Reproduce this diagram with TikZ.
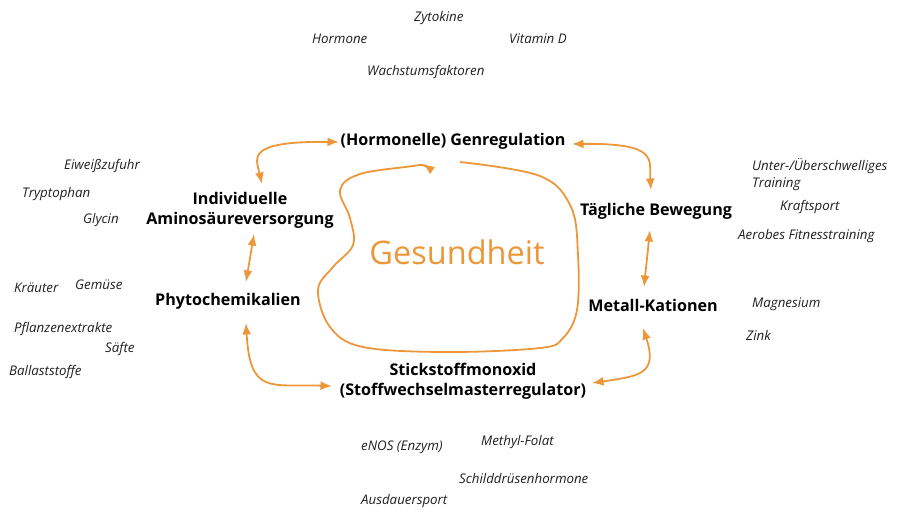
\documentclass[tikz,border=0pt]{standalone}
\usepackage{fontspec}
\setmainfont{Open Sans}
\usetikzlibrary{arrows.meta,calc}
\definecolor{orng}{RGB}{236,152,58}
\begin{document}
\begin{tikzpicture}[x=1pt,y=-1pt,
  main/.style={font=\fontsize{16.1}{20}\selectfont\bfseries, align=center, inner sep=0pt, text=black},
  sub/.style={font=\fontsize{13.3}{17}\selectfont\itshape, anchor=west, inner sep=0pt, align=left, text=black!88, yshift=-1.5pt},
  conn/.style={draw=orng, line width=1.8pt, {Latex[length=11.5pt,width=9pt]}-{Latex[length=11.5pt,width=9pt]}}
]
\useasboundingbox (0,0) rectangle (906,515);

% main nodes
\node[main] (genreg) at (453,141) {(Hormonelle) Genregulation};
\node[main] (indiv) at (240,210) {Individuelle\\Aminosäureversorgung};
\node[main] (phyto) at (228,301) {Phytochemikalien};
\node[main] (stick) at (463,381) {Stickstoffmonoxid\\(Stoffwechselmasterregulator)};
\node[main] (taeg) at (656,211) {Tägliche Bewegung};
\node[main] (metall) at (653,305) {Metall-Kationen};

\node[font=\fontsize{32.5}{38}\selectfont, text=orng, inner sep=0pt] (ges) at (457,252) {Gesundheit};

% sub labels
\node[sub] (zyt) at (414,17) {Zytokine};
\node[sub] (horm) at (312,37) {Hormone};
\node[sub] (vitd) at (509,37) {Vitamin D};
\node[sub] (wachs) at (367,71) {Wachstumsfaktoren};
\node[sub] (eiw) at (64,165) {Eiweißzufuhr};
\node[sub] (tryp) at (22,193) {Tryptophan};
\node[sub] (glyc) at (83,219) {Glycin};
\node[sub] (kraeu) at (14,286) {Kräuter};
\node[sub] (gem) at (75,283) {Gemüse};
\node[sub] (pflan) at (14,328) {Pflanzenextrakte};
\node[sub] (saef) at (105,348) {Säfte};
\node[sub] (ball) at (9,371) {Ballaststoffe};
\node[sub] (unter) at (752,173.5) {Unter-/Überschwelliges\\Training};
\node[sub] (kraft) at (780,206) {Kraftsport};
\node[sub] (aerob) at (738,235) {Aerobes Fitnesstraining};
\node[sub] (magn) at (752,303) {Magnesium};
\node[sub] (zink) at (746,334) {Zink};
\node[sub] (enos) at (361,446) {eNOS (Enzym)};
\node[sub] (meth) at (481,441) {Methyl-Folat};
\node[sub] (schild) at (459,477) {Schilddrüsenhormone};
\node[sub] (ausd) at (361,500) {Ausdauersport};

% connectors
\draw[conn] ($(genreg)+(-114,1)$) .. controls (245,141) and (256,158) .. ($(indiv)+(22,-26)$);
\draw[conn] ($(genreg)+(119,3)$) .. controls (660,143) and (649,160) .. ($(taeg)+(-5,-21)$);
\draw[conn] ($(indiv)+(14,24)$) -- ($(phyto)+(18,-19)$);
\draw[conn] ($(phyto)+(18,22)$) .. controls (250,395) and (270,384) .. ($(stick)+(-131,5)$);
\draw[conn] ($(taeg)+(-6,19)$) -- ($(metall)+(-9,-18)$);
\draw[conn] ($(metall)+(-10,23)$) .. controls (658,374) and (640,376) .. ($(stick)+(129,2)$);

% loop
\draw[draw=orng, line width=1.8pt, -{Latex[length=11.5pt,width=9pt]}]
  plot[smooth, tension=0.6] coordinates {(460,162) (540,176) (571,207) (578,255) (577,310) (563,338) (540,348) (447,352) (363,347) (330,327) (318,290) (333,267) (353,245) (350,218) (340,190) (360,174) (413,166) (423,164)};
\end{tikzpicture}
\end{document}
